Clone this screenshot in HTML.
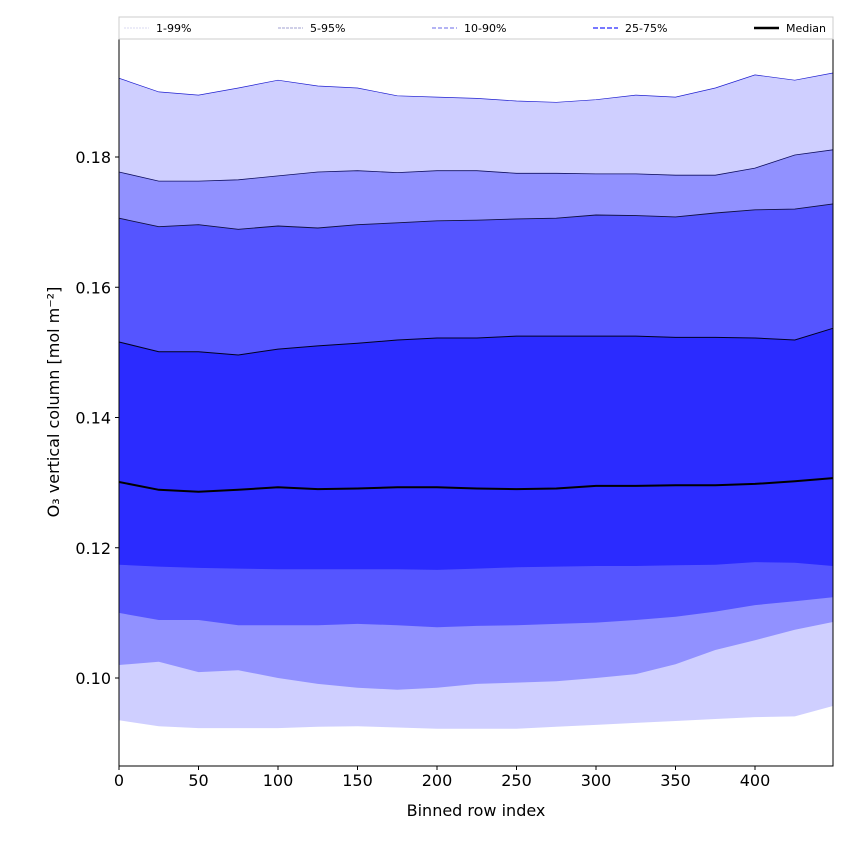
<!DOCTYPE html>
<html><head><meta charset="utf-8"><style>
body{margin:0;background:#fff;font-family:"DejaVu Sans","Liberation Sans",sans-serif}
</style></head><body>
<svg id="chart" width="850" height="850" xmlns="http://www.w3.org/2000/svg" font-family="DejaVu Sans, Liberation Sans, sans-serif"></svg>
<script>
const xs=[0,25,50,75,100,125,150,175,200,225,250,275,300,325,350,375,400,425,449];
const p99=[0.1921,0.19,0.1895,0.1906,0.1918,0.1909,0.1906,0.1894,0.1892,0.189,0.1886,0.1884,0.1888,0.1895,0.1892,0.1906,0.1926,0.1918,0.1929];
const p95=[0.1777,0.1763,0.1763,0.1765,0.1771,0.1777,0.1779,0.1776,0.1779,0.1779,0.1775,0.1775,0.1774,0.1774,0.1772,0.1772,0.1783,0.1803,0.1811];
const p90=[0.1706,0.1693,0.1696,0.1689,0.1694,0.1691,0.1696,0.1699,0.1702,0.1703,0.1705,0.1706,0.1711,0.1710,0.1708,0.1714,0.1719,0.1720,0.1728];
const p75=[0.1516,0.1501,0.1501,0.1496,0.1505,0.151,0.1514,0.1519,0.1522,0.1522,0.1525,0.1525,0.1525,0.1525,0.1523,0.1523,0.1522,0.1519,0.1537];
const p50=[0.1301,0.1289,0.1286,0.1289,0.1293,0.129,0.1291,0.1293,0.1293,0.1291,0.129,0.1291,0.1295,0.1295,0.1296,0.1296,0.1298,0.1302,0.1307];
const p25=[0.1174,0.1171,0.1169,0.1168,0.1167,0.1167,0.1167,0.1167,0.1166,0.1168,0.1170,0.1171,0.1172,0.1172,0.1173,0.1174,0.1178,0.1177,0.1172];
const p10=[0.11,0.1089,0.1089,0.1081,0.1081,0.1081,0.1083,0.1081,0.1078,0.1080,0.1081,0.1083,0.1085,0.1089,0.1094,0.1102,0.1112,0.1118,0.1124];
const p5=[0.102,0.1025,0.1009,0.1012,0.1,0.0991,0.0985,0.0982,0.0985,0.0991,0.0993,0.0995,0.1,0.1006,0.1021,0.1043,0.1058,0.1074,0.1086];
const p1=[0.0935,0.0926,0.0923,0.0923,0.0923,0.0925,0.0926,0.0924,0.0922,0.0922,0.0922,0.0925,0.0928,0.0931,0.0934,0.0937,0.094,0.0941,0.0957];
const xTicks=[0,50,100,150,200,250,300,350,400];
const yTicks=[0.10,0.12,0.14,0.16,0.18];
const L=119,R=833,T=39,B=766;
const sx=v=>L+v*1.59;
const sy=v=>157-(v-0.18)*6512.5;
const svg=document.getElementById('chart');
const NS='http://www.w3.org/2000/svg';
function mk(t,a,p){const e=document.createElementNS(NS,t);for(const k in a)e.setAttribute(k,a[k]);(p||svg).appendChild(e);return e;}
const clip=mk('clipPath',{id:'c'});mk('rect',{x:L,y:T,width:R-L,height:B-T},clip);
const g=mk('g',{'clip-path':'url(#c)'});
function pts(a){return xs.map((x,i)=>sx(x).toFixed(1)+','+sy(a[i]).toFixed(1));}
function band(hi,lo,fill,name){const e=mk('polygon',{points:pts(hi).concat(pts(lo).reverse()).join(' '),fill:fill},g);

}
band(p99,p1,'#cfcfff','band-1-99');
band(p95,p5,'#9191ff','band-5-95');
band(p90,p10,'#5555ff','band-10-90');
band(p75,p25,'#2b2bff','band-25-75');
function line(a,stroke,w,name){const e=mk('polyline',{points:pts(a).join(' '),fill:'none',stroke:stroke,'stroke-width':w},g);

}
line(p99,'#2020d0',0.7,'line-p99');line(p95,'#101060',0.8,'line-p95');line(p90,'#101040',0.9,'line-p90');line(p75,'#000020',1,'line-p75');
line(p50,'#000',2,'median-line');
mk('rect',{x:L,y:T,width:R-L,height:B-T,fill:'none',stroke:'#000','stroke-width':1});
xTicks.forEach(v=>{const x=sx(v);mk('line',{x1:x,x2:x,y1:B,y2:B+4,stroke:'#000'});
const t=mk('text',{x:x,y:B+20,'text-anchor':'middle','font-size':16});t.textContent=v;

});
yTicks.forEach(v=>{const y=sy(v);mk('line',{x1:L-4,x2:L,y1:y,y2:y,stroke:'#000'});
const t=mk('text',{x:L-8,y:y+6,'text-anchor':'end','font-size':16});t.textContent=v.toFixed(2);

});
const xt=mk('text',{x:476,y:816,'text-anchor':'middle','font-size':16});xt.textContent='Binned row index';

const yt=mk('text',{x:0,y:0,'text-anchor':'middle','font-size':16,transform:'translate(59,402) rotate(-90)'});yt.textContent='O₃ vertical column [mol m⁻²]';

const lg=mk('g',{});
mk('rect',{x:119,y:17,width:714,height:22,fill:'#fff',stroke:'#ccc'},lg);
const leg=[['1-99%',124,'#d8d8f0',1,'2,1'],['5-95%',278,'#a0a0d0',1,'3,1'],['10-90%',432,'#8888ee',1.3,'4,2'],['25-75%',593,'#6666ff',1.8,'5,2'],['Median',754,'#000',2.5,'']];
leg.forEach(([n,x,c,w,d])=>{mk('line',{x1:x,x2:x+25,y1:28,y2:28,stroke:c,'stroke-width':w,'stroke-dasharray':d},lg);
const t=mk('text',{x:x+32,y:32,'font-size':11},lg);t.textContent=n;

});
</script>
</body></html>
